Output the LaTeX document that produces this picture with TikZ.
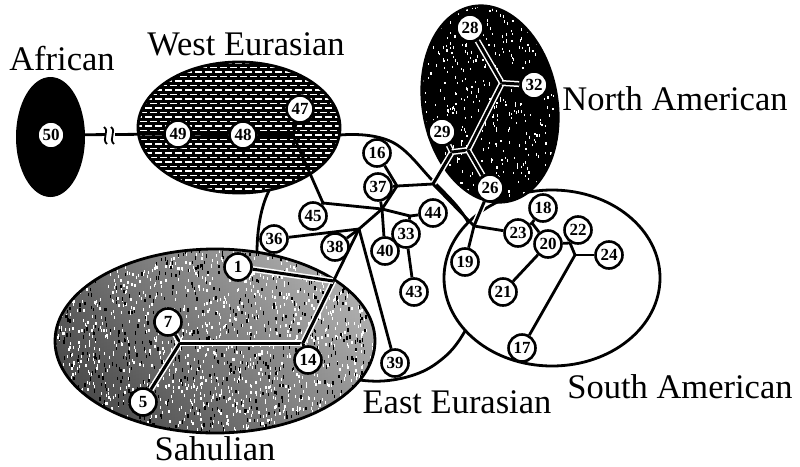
\documentclass[tikz,border=0pt]{standalone}
\usepackage{fontspec}
\setmainfont{Liberation Serif}
\pgfdeclarelayer{regions}
\pgfdeclarelayer{edges}
\pgfsetlayers{regions,edges,main}
\tikzset{
  nd/.style={circle, draw, fill=white, line width=2.6pt, minimum size=27pt, inner sep=0pt,
             font=\fontsize{17}{17}\selectfont\bfseries},
  edge/.style={line width=2.8pt},
  halo/.style={line width=3pt, preaction={draw=white, line width=6pt}},
  lab/.style={font=\fontsize{34.5}{40}\selectfont, anchor=base, inner sep=0pt},
  region/.style={line width=2.8pt},
}
\begin{document}
\begin{tikzpicture}[x=1pt,y=-1pt]
\useasboundingbox (0,0) rectangle (800,466);

% ---------------- regions ----------------
\begin{pgfonlayer}{regions}
\fill[white] (0,0) rectangle (800,466);
% East Eurasian
\draw[region, fill=white] plot[smooth cycle, tension=0.6] coordinates {
  (340,135) (392,142) (432,180) (468,222) (488,280) (462,336) (437,363)
  (407,377) (370,381) (330,372) (295,345) (265,300) (257,250) (267,195) (300,150)};
% South American
\draw[region, fill=white] (552,278) ellipse [x radius=108, y radius=88];
% North American
\begin{scope}
  \clip[rotate around={10:(490,104)}] (490,104) ellipse [x radius=67, y radius=99];
  \fill[black] (400,0) rectangle (580,210);
  \pgfmathsetseed{11}
  \foreach \i in {1,...,450}{
    \pgfmathsetmacro{\px}{420+135*rnd}
    \pgfmathsetmacro{\py}{5+200*rnd}
    \fill[white] (\px,\py) rectangle ++(1.2,2.4);
  }
\end{scope}
\draw[region, rotate around={10:(490,104)}] (490,104) ellipse [x radius=67, y radius=99];
% West Eurasian (hatched)
\begin{scope}
  \clip (239,127.5) ellipse [x radius=101, y radius=65.5];
  \fill[black] (130,55) rectangle (350,200);
  \foreach \r [count=\k] in {63,67.5,...,195}{
    \pgfmathsetmacro{\ph}{mod(\k,2)*5}
    \draw[white, line width=1.9pt, dash pattern=on 7pt off 3pt, dash phase=\ph pt] (130,\r) -- (350,\r);
  }
\end{scope}
\draw[region] (239,127.5) ellipse [x radius=101, y radius=65.5];
% Sahulian
\begin{scope}
  \clip (215,341) ellipse [x radius=160, y radius=92];
  \shade[left color=black!72, right color=black!30] (55,249) rectangle (375,433);
  \shade[top color=white, bottom color=white!0!black, opacity=0.18] (55,249) rectangle (375,433);
  \pgfmathsetseed{3}
  \foreach \i in {1,...,1300}{
    \pgfmathsetmacro{\px}{55+320*rnd}
    \pgfmathsetmacro{\py}{249+184*rnd}
    \fill[white] (\px,\py) rectangle ++(1.3,3);
  }
  \foreach \i in {1,...,700}{
    \pgfmathsetmacro{\px}{55+320*rnd}
    \pgfmathsetmacro{\py}{249+184*rnd}
    \fill[black] (\px,\py) rectangle ++(1.3,3.4);
  }
\end{scope}
\draw[region] (215,341) ellipse [x radius=160, y radius=92];
% African
\fill[black] (50.5,137) ellipse [x radius=34.5, y radius=60];
\end{pgfonlayer}

% ---------------- labels ----------------
\node[lab] (tAfr) at (62,70) {African};
\node[lab] (tWE) at (246,55) {West Eurasian};
\node[lab] (tNA) at (675,110) {North American};
\node[lab] (tSA) at (680,398) {South American};
\node[lab] (tEE) at (457,413) {East Eurasian};
\node[lab] (tSah) at (215,460) {Sahulian};

% ---------------- nodes ----------------
\node[nd] (n50) at (51,135) {50};
\node[nd] (n49) at (178,134) {49};
\node[nd] (n48) at (243,135) {48};
\node[nd] (n47) at (300,109) {47};
\node[nd] (n45) at (313,216) {45};
\node[nd] (n16) at (377,153) {16};
\node[nd] (n37) at (378,187) {37};
\node[nd] (n36) at (274,239) {36};
\node[nd] (n38) at (335,247) {38};
\node[nd] (n40) at (385,251) {40};
\node[nd] (n44) at (433,213) {44};
\node[nd] (n33) at (406,234) {33};
\node[nd] (n43) at (414,292) {43};
\node[nd] (n39) at (395,363) {39};
\node[nd] (n14) at (308,360) {14};
\node[nd] (n1)  at (238,267) {1};
\node[nd] (n7)  at (168,322) {7};
\node[nd] (n5)  at (143,402) {5};
\node[nd] (n28) at (470,28) {28};
\node[nd] (n32) at (534,85) {32};
\node[nd] (n29) at (442,132) {29};
\node[nd] (n26) at (490,188) {26};
\node[nd] (n23) at (518,233) {23};
\node[nd] (n19) at (465,262) {19};
\node[nd] (n18) at (543,208) {18};
\node[nd] (n20) at (548,244) {20};
\node[nd] (n22) at (578,230) {22};
\node[nd] (n24) at (609,255) {24};
\node[nd] (n21) at (503,292) {21};
\node[nd] (n17) at (522,348) {17};

% junctions
\coordinate (P)  at (293,135);
\coordinate (J2) at (323,203);
\coordinate (J0) at (397,186);
\coordinate (J1) at (382,209);
\coordinate (J3) at (359,229);
\coordinate (J4) at (410,216);
\coordinate (L)  at (303,343);
\coordinate (M)  at (333.5,281);
\coordinate (K)  at (180,343);
\coordinate (J5) at (433,184);
\coordinate (B)  at (452,152);
\coordinate (D)  at (468,150);
\coordinate (A)  at (502,83);
\coordinate (C)  at (474,226);
\coordinate (E)  at (532,223);
\coordinate (G)  at (570,243);
\coordinate (F)  at (575,255);

% ---------------- edges ----------------
\begin{pgfonlayer}{edges}
% haloed edges (inside dark regions)
\draw[halo] (J5) -- (B);
\draw[halo] (B) -- (n29);
\draw[halo] (B) -- (D);
\draw[halo] (D) -- (A);
\draw[halo] (A) -- (n28);
\draw[halo] (A) -- (n32);
\draw[halo] (D) -- (n26);
\draw[halo] (n26) -- (C);
\draw[halo] (n7) -- (K);
\draw[halo] (K) -- (n5);
\draw[halo] (K) -- (L);
\draw[halo] (L) -- (n14);
\draw[halo] (M) -- (L);
\draw[halo] (n1) -- (M);
% plain edges
\draw[edge] (n50) -- (n49);
\draw[edge] (n49) -- (n48);
\draw[edge] (n48) -- (P);
\draw[edge] (P) -- (n47);
\draw[edge] (P) -- (J2);
\draw[edge] (J2) -- (n45);
\draw[edge] (J2) -- (J1);
\draw[edge] (n16) -- (J0);
\draw[edge] (n37) -- (J0);
\draw[edge] (n37) -- (J1);
\draw[edge] (J0) -- (J1);
\draw[edge] (J0) -- (J5);
\draw[edge] (J1) -- (J3);
\draw[edge] (J3) -- (n36);
\draw[edge] (J3) -- (n38);
\draw[edge] (J3) -- (n39);
\draw[edge] (J3) -- (M);
\draw[edge] (J1) -- (n40);
\draw[edge] (J1) -- (J4);
\draw[edge] (J4) -- (n44);
\draw[edge] (J4) -- (n33);
\draw[edge] (n33) -- (n43);
\draw[edge] (J5) -- (C);
\draw[edge] (C) -- (n23);
\draw[edge] (C) -- (n19);
\draw[edge] (n23) -- (E);
\draw[edge] (E) -- (n18);
\draw[edge] (E) -- (n20);
\draw[edge] (n20) -- (n21);
\draw[edge] (n20) -- (G);
\draw[edge] (n22) -- (G);
\draw[edge] (G) -- (F);
\draw[edge] (F) -- (n24);
\draw[edge] (F) -- (n17);
% break mark on the African link
\fill[white] (106,128) rectangle (115,142);
\draw[line width=1.8pt] (104,127) .. controls (110,131) and (101,139) .. (107,144);
\draw[line width=1.8pt] (111,127) .. controls (117,131) and (108,139) .. (114,144);
\end{pgfonlayer}
\end{tikzpicture}
\end{document}
